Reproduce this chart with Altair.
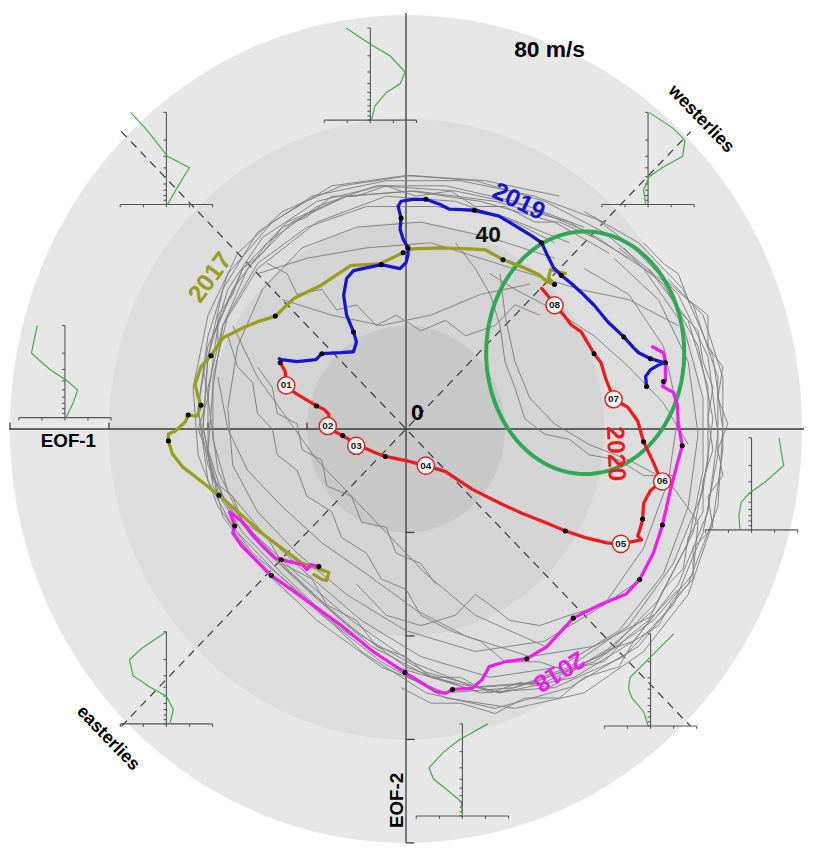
import math
import altair as alt
import numpy as np
import pandas as pd

# ---------------- data (all in m/s, EOF-1 -> u, EOF-2 -> v) ----------------
RING_RADII = [80, 60, 40, 20]
RING_FILLS = ["#e7e7e7", "#dddddd", "#d4d4d4", "#c8c8c8"]

U2020 = [-25.4, -24.4, -24.2, -22.6, -20.6, -18.06, -16.6, -15.6, -15.8, -14.6, -12.8, -11.4, -10.06, -8.0, -6.2,
         -4.2, 0.0, 4.0, 8.0, 13.4, 19.4, 23.4, 28.4, 32.2, 36.4, 40.6, 43.4, 45.4, 47.6, 46.8, 47.4, 47.8, 48.0,
         49.4, 51.6, 49.8, 48.0, 46.8, 44.8, 42.0, 40.4, 39.4, 38.0, 35.4, 33.4, 30.8, 30.0, 28.6, 27.4]
V2020 = [12.82, 11.10, 8.42, 7.08, 5.93, 4.46, 3.83, 2.87, 0.57, -0.38, -1.28, -2.11, -3.25, -3.83, -4.59,
         -5.30, -6.12, -7.08, -8.23, -11.67, -14.55, -16.27, -18.18, -19.71, -21.05, -22.01, -22.20, -21.82, -21.44,
         -20.67, -18.95, -17.42, -14.35, -11.87, -10.14, -6.12, -2.49, 1.53, 4.21, 5.74, 9.57, 12.82, 14.55, 18.76,
         20.10, 23.35, 23.92, 25.84, 27.18]

U2019 = [48.6, 48.4, 49.4, 50.8, 52.0, 49.4, 47.0, 46.0, 44.0, 40.8, 38.0, 35.8, 33.4, 31.4, 29.8, 28.6, 27.4,
         25.4, 22.8, 18.8, 13.8, 8.8, 6.8, 4.0, 1.4, -1.0, -1.6, -1.0, -1.2, -0.6, 0.4, 0.4, 0.0, -1.2, -5.0,
         -10.6, -12.0, -12.6, -12.0, -10.6, -10.0, -10.6, -13.2, -17.0, -18.2, -22.0, -25.2, -25.6]
V2019 = [8.23, 10.14, 11.48, 12.25, 12.82, 13.59, 14.74, 15.69, 17.80, 20.67, 23.92, 26.03, 28.13, 29.67, 31.20,
         33.49, 35.98, 37.32, 38.85, 41.15, 42.30, 42.49, 43.44, 44.40, 44.40, 44.02, 43.06, 40.77, 38.66, 36.75,
         35.02, 33.68, 32.15, 31.00, 31.77, 30.62, 29.09, 25.84, 22.01, 18.76, 16.84, 14.93, 14.74, 14.55, 13.40,
         13.01, 13.40, 13.59]

U2017 = [32.2, 30.6, 29.2, 28.8, 30.0, 28.4, 26.8, 22.8, 19.6, 16.0, 12.8, 6.8, 1.4, -0.6, -5.2, -11.2, -17.2,
         -22.6, -26.4, -29.6, -32.6, -37.0, -39.4, -41.4, -42.6, -42.0, -41.4, -42.2, -44.0, -44.6, -46.6, -48.0,
         -48.0, -47.2, -45.2, -42.6, -37.8, -33.2, -29.2, -25.2, -21.2, -17.2, -15.6, -16.0, -17.0, -18.6]
V2017 = [30.05, 30.43, 30.81, 29.28, 27.94, 28.52, 29.86, 31.58, 32.73, 34.64, 34.83, 35.02, 34.83, 34.07, 31.96,
         31.58, 27.75, 25.26, 21.82, 20.86, 19.71, 17.61, 14.16, 12.06, 8.61, 6.32, 4.59, 2.49, 2.68, 1.34, -0.38,
         -0.96, -2.30, -4.78, -7.27, -9.19, -12.82, -16.65, -20.10, -22.97, -25.84, -27.18, -27.75, -29.28,
         -29.09, -28.13]

U2018 = [-17.6, -19.2, -20.0, -21.0, -22.6, -25.2, -26.6, -29.6, -33.2, -35.6, -34.6, -35.0, -33.2, -29.2, -27.2,
         -23.2, -13.2, -6.6, -0.2, 6.0, 8.0, 9.4, 13.4, 15.4, 16.8, 20.0, 24.4, 28.4, 33.8, 39.4, 44.4, 47.2, 50.0,
         51.8, 53.4, 54.8, 55.8, 55.0, 54.8, 54.0, 51.8, 52.4, 52.4, 52.0, 49.8]
V2018 = [-26.60, -26.22, -27.18, -26.22, -25.84, -25.26, -24.88, -22.01, -17.80, -16.08, -18.76, -20.10, -22.58,
         -26.41, -28.33, -31.00, -37.90, -43.06, -47.08, -50.72, -51.10, -50.34, -50.14, -48.42, -45.93, -44.98,
         -44.40, -42.11, -36.56, -33.88, -31.96, -29.09, -23.92, -18.56, -11.87, -6.70, -3.25, 0.96, 4.78, 7.08,
         8.23, 9.38, 12.82, 14.74, 15.89]

# monthly marks (black dots)
DOTS_U = [-25.4, -18.06, -12.8, -4.2, 32.2, 47.8, 48.0, 38.0,
          48.6, 49.4, 44.0, 31.4, 27.4, 13.8, 4.0, -1.0, 0.4, -5.0, -10.6, -17.0,
          30.0, 19.6, -0.6, -26.4, -39.4, -41.4, -44.0, -48.0, -37.8,
          -17.6, -25.2, -34.6, -27.2, -0.2, 9.4, 24.4, 33.8, 47.2, 51.8, 55.8, 52.0, 52.4]
DOTS_V = [12.82, 4.46, -1.28, -5.30, -19.71, -17.42, -2.49, 14.55,
          8.23, 13.59, 17.80, 29.67, 35.98, 42.30, 44.40, 40.77, 35.02, 31.77, 18.76, 14.55,
          27.94, 32.73, 34.07, 21.82, 14.16, 4.59, 2.68, -2.30, -12.82,
          -26.60, -25.26, -18.76, -28.33, -47.08, -50.34, -44.40, -36.56, -29.09, -18.56, -3.25, 9.19, 12.82]

# 2020 month labels
MONTHS = ["01", "02", "03", "04", "05", "06", "07", "08"]
MONTH_U = [-24.2, -15.8, -10.06, 4.0, 43.4, 51.74, 41.94, 30.0]
MONTH_V = [8.42, 0.57, -3.25, -7.08, -22.20, -10.14, 5.74, 23.92]

# gray trajectories of earlier years
GRAY_TRACKS = [
    [(36, 39), (22, 44), (8, 47), (-6, 47), (-18, 43), (-28, 36), (-35, 27), (-40, 16), (-42, 4), (-40, -7),
     (-36, -15), (-29, -23), (-19, -32), (-7, -42), (5, -48), (19, -51), (33, -46), (45, -38), (54, -26),
     (60, -12), (62, 2), (59, 16), (52, 28), (43, 35)],
    [(41, 34), (30, 40), (15, 44), (1, 46), (-12, 45), (-23, 40), (-32, 31), (-37, 20), (-39, 8), (-40, -4),
     (-37, -13), (-31, -20), (-22, -28), (-11, -37), (1, -45), (14, -50), (28, -49), (41, -43), (51, -33),
     (58, -20), (61, -6), (61, 8), (57, 21), (49, 31)],
    [(31, 45), (16, 48), (1, 49), (-13, 47), (-25, 42), (-34, 34), (-40, 22), (-43, 8), (-42, -5), (-38, -15),
     (-31, -24), (-21, -32), (-9, -43), (4, -51), (18, -54), (33, -50), (47, -42), (57, -30), (63, -15),
     (64, 0), (62, 14), (56, 27), (47, 36), (36, 42)],
    [(30, 33), (17, 37), (3, 40), (-10, 39), (-21, 35), (-29, 27), (-34, 16), (-36, 4), (-35, -7), (-30, -16),
     (-22, -24), (-12, -32), (0, -39), (14, -43), (28, -41), (40, -34), (48, -23), (53, -10), (55, 3),
     (52, 16), (45, 26), (36, 31)],
    [(45, 33), (33, 40), (18, 44), (2, 46), (-12, 45), (-24, 40), (-33, 31), (-38, 20), (-40, 6), (-38, -8),
     (-33, -18), (-24, -27), (-13, -37), (0, -46), (15, -51), (30, -50), (44, -44), (54, -34), (60, -20),
     (63, -5), (63, 10), (58, 24), (50, 31)],
    [(25, 43), (10, 46), (-5, 47), (-18, 44), (-29, 37), (-36, 27), (-40, 14), (-41, 1), (-39, -11),
     (-33, -20), (-25, -28), (-14, -38), (-2, -46), (12, -50), (26, -49), (39, -44), (50, -35), (57, -22),
     (60, -8), (60, 6), (56, 20), (48, 31), (37, 38), (27, 42)],
    [(19, 30), (20, 22), (22, 13), (25, 6), (30, 1), (37, -3), (45, -6), (53, -10), (59, -18), (58, -28),
     (50, -37), (38, -45), (22, -50), (8, -51), (-5, -46), (-18, -37), (-29, -27), (-37, -17), (-40, -5),
     (-40, 8), (-37, 20), (-30, 31), (-18, 40), (-4, 45), (10, 44), (22, 40), (30, 36)],
    [(50, 30), (40, 38), (28, 44), (14, 48), (0, 49), (-15, 47), (-27, 40), (-36, 30), (-40, 18), (-42, 4),
     (-40, -10), (-35, -19), (-27, -27), (-17, -36), (-5, -45), (8, -52), (22, -54), (36, -51), (48, -43),
     (57, -32), (62, -18), (64, -4), (64, 10), (60, 22), (53, 29)],
    [(40, 40), (26, 45), (11, 48), (-4, 48), (-19, 45), (-30, 38), (-37, 27), (-40, 14), (-41, 0), (-38, -12),
     (-31, -21), (-21, -30), (-9, -40), (4, -47), (19, -51), (34, -48), (46, -41), (55, -30), (61, -16),
     (63, -1), (61, 14), (55, 26), (46, 35), (38, 41)],
    [(33, 36), (20, 41), (6, 43), (-8, 43), (-20, 39), (-30, 32), (-36, 22), (-39, 10), (-39, -2), (-36, -12),
     (-29, -20), (-20, -28), (-9, -37), (3, -44), (17, -48), (31, -46), (43, -39), (52, -28), (57, -15),
     (59, -1), (57, 13), (51, 25), (42, 33)],
    [(38, 37), (31, 40), (26, 40), (20, 43), (14, 43), (9, 46), (2, 45), (-4, 47), (-10, 45), (-15, 45),
     (-20, 41), (-25, 39), (-29, 34), (-33, 31), (-35, 26), (-38, 22), (-38, 16), (-41, 12), (-40, 6), (-42, 0),
     (-40, -5), (-39, -10), (-35, -13), (-33, -18), (-28, -21), (-25, -26), (-19, -29), (-16, -34), (-10, -37),
     (-6, -42), (0, -44), (5, -48), (11, -48), (17, -51), (23, -49), (29, -50), (35, -46), (40, -45), (45, -40),
     (49, -37), (52, -31), (56, -27), (57, -21), (60, -16), (60, -10), (62, -4), (61, 2), (62, 8), (60, 13),
     (59, 19), (55, 23), (53, 28), (48, 31), (44, 35)],
    [(-36, 18), (-34, 12), (-31, 9), (-30, 3), (-27, 0), (-26, -5), (-22, -8), (-20, -13), (-15, -16),
     (-13, -21), (-8, -24), (-5, -29), (0, -31), (3, -36), (9, -39), (15, -41), (20, -45), (27, -45), (33, -47),
     (40, -43), (46, -41), (51, -35), (55, -31)],
    [(-28, 32), (-24, 30), (-22, 26), (-17, 27), (-14, 23), (-10, 24), (-6, 20), (-2, 22), (3, 19), (8, 21),
     (12, 18), (18, 20), (22, 24), (27, 22)],
    [(-30, 12), (-27, 8), (-26, 3), (-22, 1), (-21, -4), (-17, -6), (-16, -11), (-11, -13), (-9, -18),
     (-4, -19), (-2, -24), (3, -26), (6, -30)],
    [(48, 36), (52, 32), (55, 30), (57, 25), (61, 22), (61, 16), (64, 12), (63, 6), (65, 1), (63, -4), (64, -9),
     (61, -13), (62, -19), (58, -23), (58, -29), (54, -33), (51, -38), (46, -41), (43, -46), (36, -48),
     (31, -52), (24, -52), (18, -55), (11, -53), (5, -53), (-1, -50)],
    [(10, 36), (14, 31), (17, 26), (19, 20), (20, 13), (22, 8), (24, 2), (28, -1), (33, -2), (37, -5), (43, -6),
     (48, -9), (54, -9)],
    [(-10, -30), (-4, -36), (3, -38), (10, -36), (14, -32), (17, -34), (21, -37), (27, -38), (33, -36),
     (40, -34), (46, -30)],
    [(-38, 10), (-36, 0), (-32, -8), (-25, -15), (-17, -22), (-8, -28), (2, -35), (12, -40), (25, -44),
     (38, -42), (50, -36)],
    [(-35, 20), (-30, 10), (-24, 2), (-18, -6), (-10, -14), (-4, -20), (4, -28), (14, -36), (28, -42)],
    [(-30, 30), (-20, 33), (-8, 35), (5, 36), (15, 33), (25, 30), (35, 27), (45, 25), (55, 20)],
    [(-25, 25), (-15, 22), (-5, 20), (5, 22), (15, 26), (25, 28)],
    [(17, 30), (22, 27), (30, 23), (38, 18), (45, 12), (52, 5), (57, -3)],
]

# wind profiles (m/s) at Singapore levels (hPa) for the eight phase panels
PROFILE_LEVELS = [10, 15, 20, 30, 40, 50, 70, 100]
PROFILES = {
    "N": [-21, 0, 17, 30, 26, 14, 4, 1],
    "NE": [1, 22, 32, 30, 12, 1, -4, -2],
    "E": [24, 26, 28, 12, -2, -9, -11, -10],
    "SE": [20, 6, -4, -18, -19, -16, -6, -2],
    "S": [22, -3, -16, -29, -25, -15, -1, 0],
    "SW": [0, -21, -32, -29, -14, 0, 6, 3],
    "W": [-24, -27, -29, -13, 2, 11, 7, 1],
    "NW": [-31, -18, -10, 1, 20, 15, 8, 1],
}
PROFILE_TICK_LEVELS = [100, 90, 80, 70, 60, 50, 40, 30, 20, 10]
PROFILE_TICK_WINDS = [-40, -20, 0, 20, 40]

# ---------------- layout (not data) ----------------
PANEL_ORIGIN = {  # where (0 m/s, 100 hPa) of each small panel sits, in main-plot units
    "N": (-7.2, 59.7), "NE": (48.9, 43.4), "E": (69.8, -19.5), "SE": (49.4, -57.4),
    "S": (11.4, -74.8), "SW": (-48.4, -57.0), "W": (-68.9, 2.2), "NW": (-48.4, 43.4),
}
WIND_K = 0.233     # main-plot u per profile m/s
LEV_K = 7.73       # main-plot v per ln(100/p)

XS = alt.Scale(domain=[-79.0, 80.4], nice=False, zero=False)
YS = alt.Scale(domain=[-80.57, 79.8], nice=False, zero=False)
FONT = "Liberation Sans"


def X(f="u"):
    return alt.X(f, type="quantitative", scale=XS, axis=None)


def Y(f="v"):
    return alt.Y(f, type="quantitative", scale=YS, axis=None)


layers = []

# background rings (filled ellipses, outermost first)
t = np.linspace(0, np.pi, 241)
for r, col in zip(RING_RADII, RING_FILLS):
    d = pd.DataFrame({"u": r * np.cos(t), "vt": r * np.sin(t), "vb": -r * np.sin(t)})
    layers.append(alt.Chart(d).mark_area(color=col, opacity=1).encode(
        x=X("u"), y=Y("vt"), y2=alt.Y2("vb")))


def rules(rows, **kw):
    d = pd.DataFrame(rows, columns=["x1", "y1", "x2", "y2"])
    return alt.Chart(d).mark_rule(**kw).encode(x=X("x1"), y=Y("y1"), x2=alt.X2("x2"), y2=alt.Y2("y2"))


# dashed diagonals
layers.append(rules([(-57.5, 57.5, 57.5, -57.5), (-57.5, -57.5, 57.5, 57.5)],
                    color="#2a2a2a", strokeWidth=1.1, strokeDash=[8, 6]))
# main axes
axis_rows = [(-80.2, 0, 80.4, 0), (0, 80.4, 0, -80.0)]
axis_rows += [(u, 0, u, 1.2) for u in [-80, -60, -40, -20]]
axis_rows += [(0, v, 1.7, v) for v in [-20, -40, -60, -80]]
layers.append(rules(axis_rows, color="#3a3a3a", strokeWidth=1.3))

# gray trajectories
g_rows = []
for k, pts in enumerate(GRAY_TRACKS):
    for i, (u, v) in enumerate(pts):
        g_rows.append({"id": k, "i": i, "u": u, "v": v})
gdf = pd.DataFrame(g_rows)
layers.append(alt.Chart(gdf).mark_line(color="#7e7e7e", strokeWidth=0.95, strokeJoin="round").encode(
    x=X(), y=Y(), detail="id:N", order="i:Q"))

# small profile panels
pax, ptick, pline = [], [], []
for name, winds in PROFILES.items():
    ox, oy = PANEL_ORIGIN[name]
    top = LEV_K * math.log(100 / 10)
    pax.append((ox, oy, ox, oy + top))
    pax.append((ox + PROFILE_TICK_WINDS[0] * WIND_K, oy, ox + PROFILE_TICK_WINDS[-1] * WIND_K, oy))
    for p in PROFILE_TICK_LEVELS:
        hh = oy + LEV_K * math.log(100 / p)
        ptick.append((ox - 0.6, hh, ox, hh))
    for w in PROFILE_TICK_WINDS:
        ptick.append((ox + w * WIND_K, oy, ox + w * WIND_K, oy - 0.55))
    for i, (p, w) in enumerate(zip(PROFILE_LEVELS, winds)):
        pline.append({"panel": name, "i": i, "u": ox + w * WIND_K, "v": oy + LEV_K * math.log(100 / p)})
layers.append(rules(pax + ptick, color="#555555", strokeWidth=1.1))
layers.append(alt.Chart(pd.DataFrame(pline)).mark_line(color="#3fae3f", strokeWidth=1.2).encode(
    x=X(), y=Y(), detail="panel:N", order="i:Q"))

# green ellipse
tt = np.linspace(0, 2 * np.pi, 181)
ell = pd.DataFrame({"i": np.arange(len(tt)), "u": 36.2 + 20.0 * np.cos(tt), "v": 14.74 + 23.44 * np.sin(tt)})
layers.append(alt.Chart(ell).mark_line(color="#2fa84f", strokeWidth=4).encode(x=X(), y=Y(), order="i:Q"))

# highlighted years
YEAR_COLORS = {"2017": "#9b9b1c", "2018": "#f01ef0", "2019": "#1414d2", "2020": "#ee1b1b"}
ydf = pd.concat([
    pd.DataFrame({"year": "2017", "u": U2017, "v": V2017}).reset_index(names="i"),
    pd.DataFrame({"year": "2018", "u": U2018, "v": V2018}).reset_index(names="i"),
    pd.DataFrame({"year": "2019", "u": U2019, "v": V2019}).reset_index(names="i"),
    pd.DataFrame({"year": "2020", "u": U2020, "v": V2020}).reset_index(names="i"),
])
layers.append(alt.Chart(ydf).mark_line(strokeWidth=3.3, strokeJoin="round", strokeCap="round").encode(
    x=X(), y=Y(), detail="year:N", order="i:Q",
    color=alt.Color("year:N", scale=alt.Scale(domain=list(YEAR_COLORS), range=list(YEAR_COLORS.values())),
                    legend=None)))

# monthly dots
layers.append(alt.Chart(pd.DataFrame({"u": DOTS_U, "v": DOTS_V})).mark_circle(
    size=26, color="black", opacity=1).encode(x=X(), y=Y()))

# 2020 month labels
mdf = pd.DataFrame({"m": MONTHS, "u": MONTH_U, "v": MONTH_V})
layers.append(alt.Chart(mdf).mark_point(shape="circle", filled=True, fill="white", stroke="#e02020",
                                        strokeWidth=1.5, size=300, opacity=1).encode(x=X(), y=Y()))
layers.append(alt.Chart(mdf).mark_text(font=FONT, fontSize=10, fontWeight="bold", color="#111111").encode(
    x=X(), y=Y(), text="m:N"))


def label(txt, u, v, size, color="black", angle=0):
    d = pd.DataFrame({"t": [txt], "u": [u], "v": [v]})
    return alt.Chart(d).mark_text(font=FONT, fontSize=size, fontWeight="bold", color=color, angle=angle,
                                  align="center", baseline="middle").encode(x=X(), y=Y(), text="t:N")


layers += [
    label("80 m/s", 29.0, 73.3, 23),
    label("westerlies", 59.6, 59.9, 18, angle=46),
    label("easterlies", -60.2, -59.8, 18, angle=46),
    label("EOF-1", -68.2, -2.3, 19),
    label("EOF-2", -1.8, -71.8, 19, angle=270),
    label("0", 2.3, 3.0, 23),
    label("40", 16.6, 37.5, 23, color="#111111"),
    label("2017", -39.6, 29.3, 25, YEAR_COLORS["2017"], 306),
    label("2019", 22.8, 44.0, 25, YEAR_COLORS["2019"], 26),
    label("2020", 42.4, -4.8, 25, YEAR_COLORS["2020"], 88),
    label("2018", 31.0, -46.9, 25, YEAR_COLORS["2018"], 148),
]

chart = alt.layer(*layers).properties(width=797, height=838, padding=0).configure_view(stroke=None)
chart.save("out.html", embed_options={"renderer": "svg", "actions": False})
